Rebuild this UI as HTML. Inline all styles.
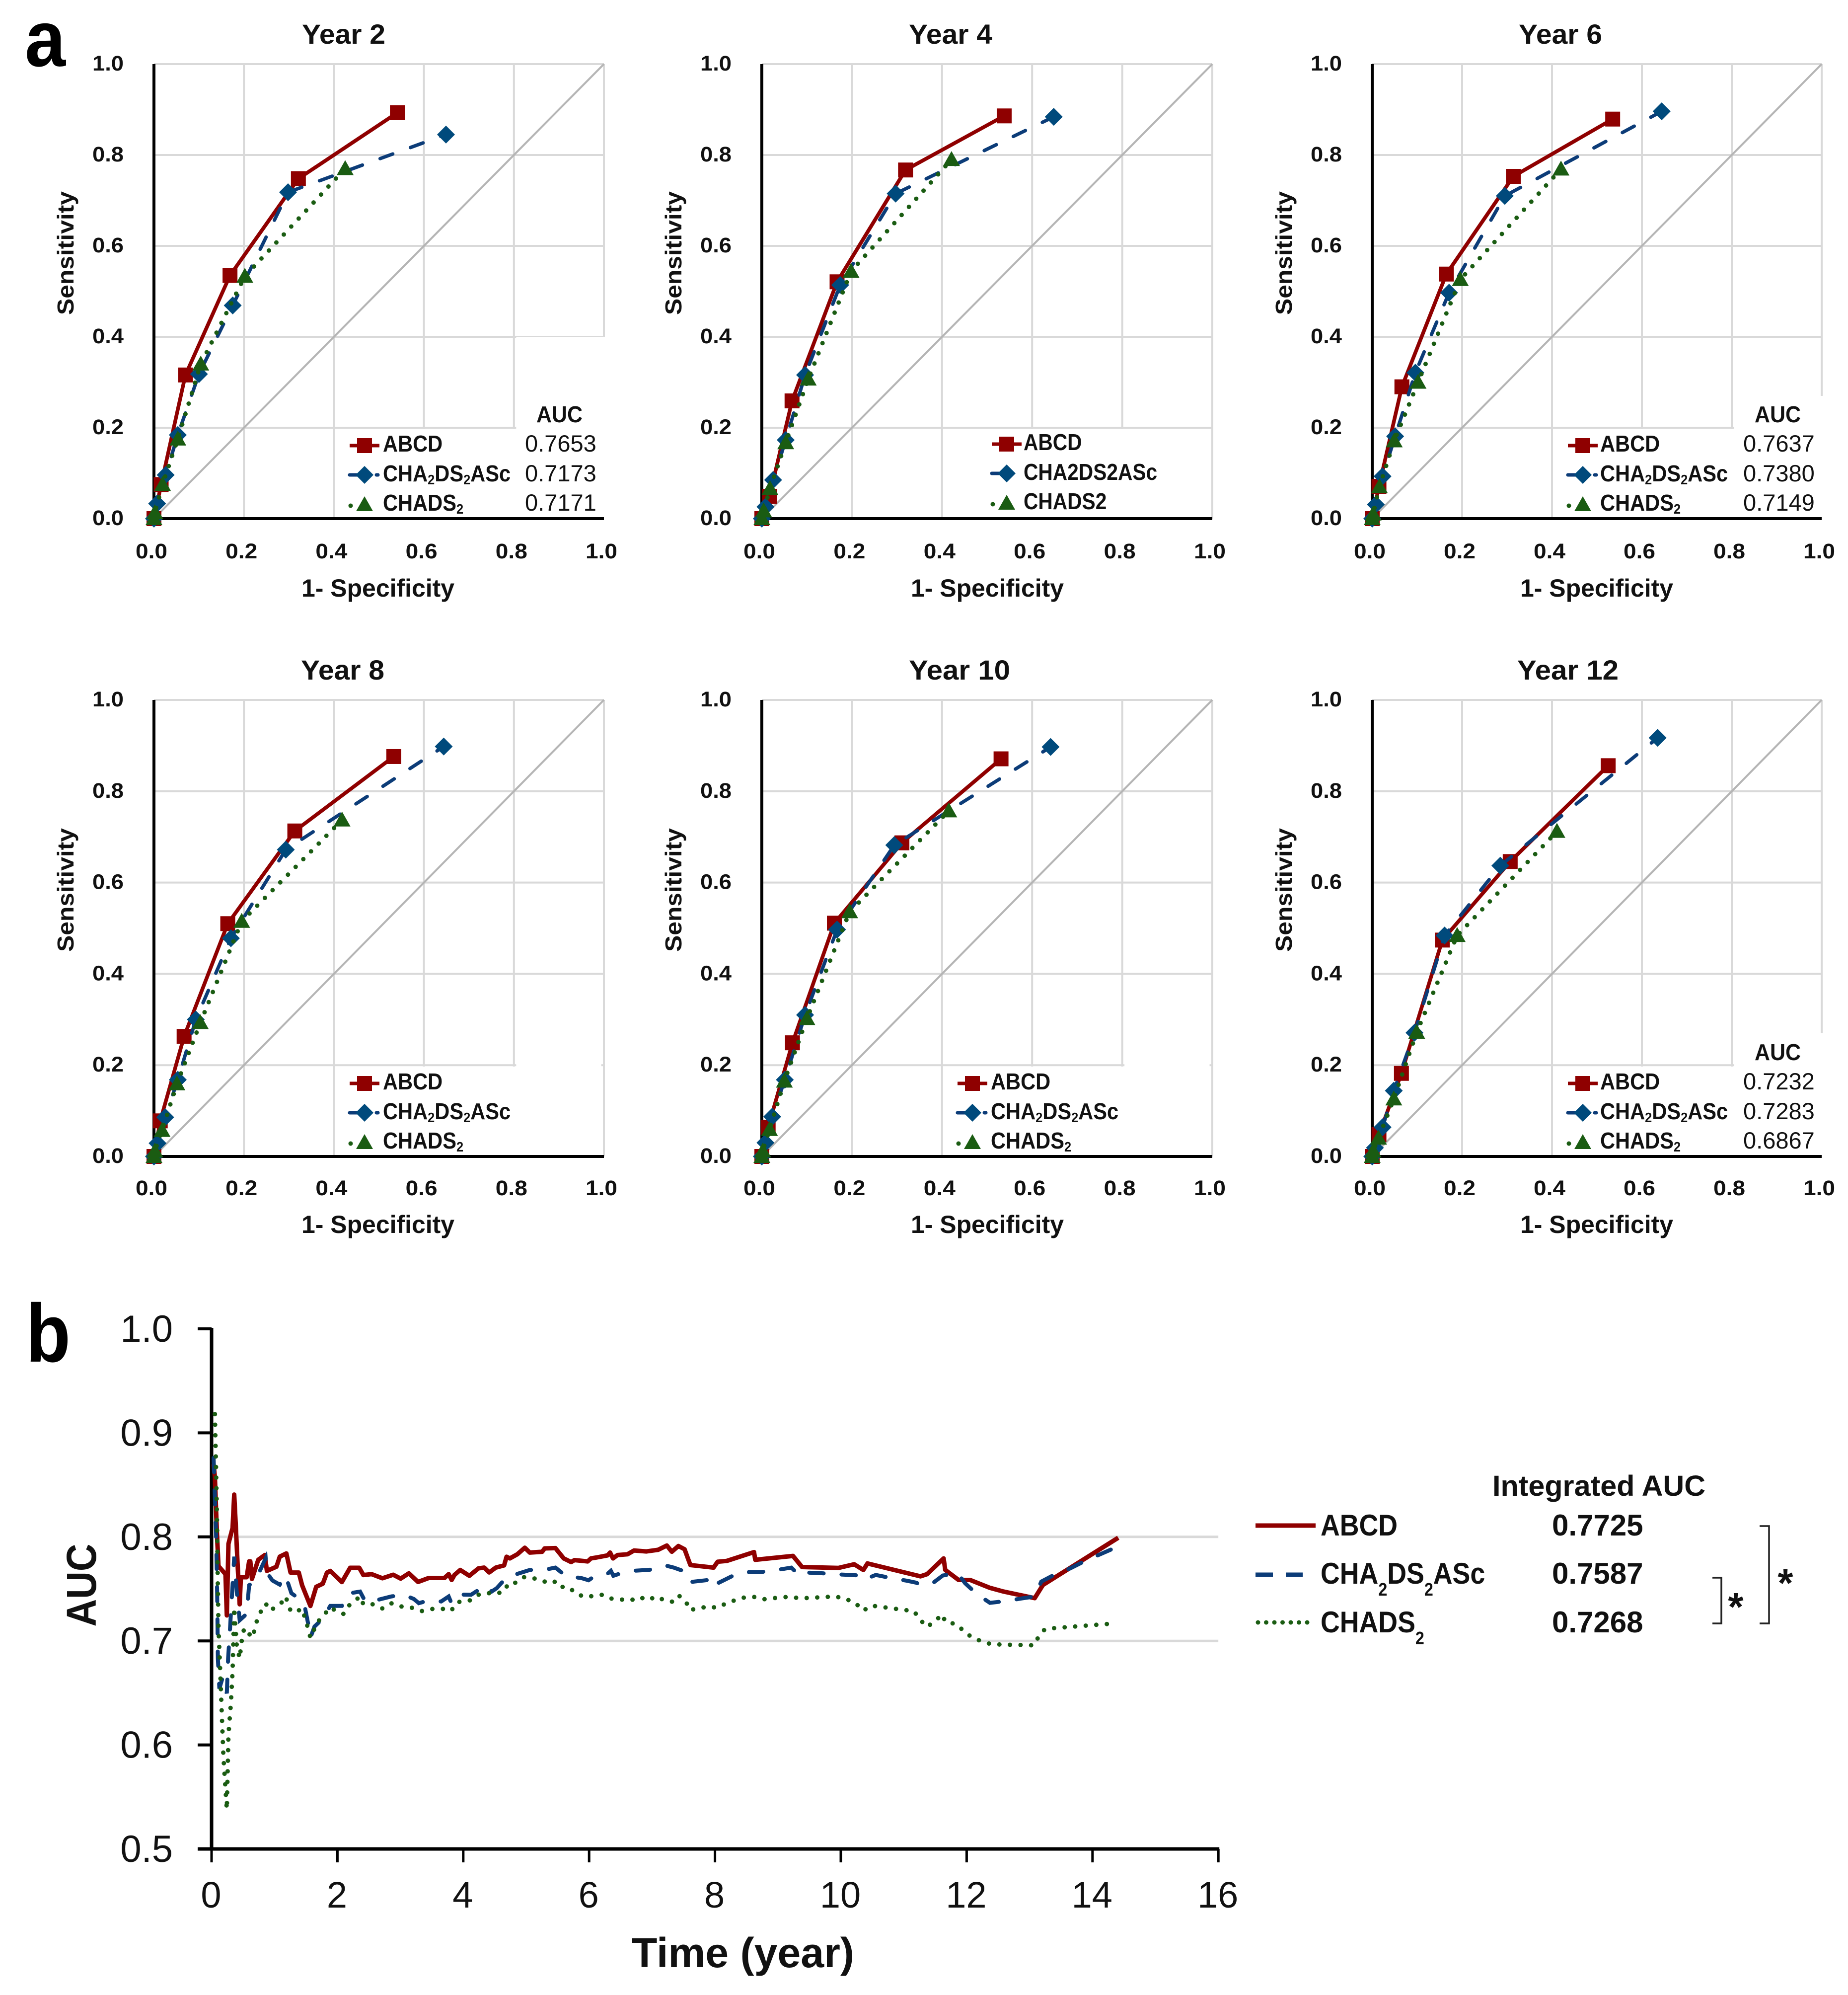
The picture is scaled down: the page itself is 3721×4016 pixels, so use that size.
<!DOCTYPE html>
<html lang="en">
<head>
<meta charset="utf-8">
<title>ROC curves and time-dependent AUC</title>
<style>
html,body{margin:0;padding:0;background:#fff;}
svg{display:block;font-family:"Liberation Sans",sans-serif;fill:#111;}
</style>
</head>
<body>
<svg id="fig" xmlns="http://www.w3.org/2000/svg" width="3721" height="4016" viewBox="0 0 3721 4016">
  <rect x="0" y="0" width="3721" height="4016" fill="#fff"/>
  <text x="50" y="133" font-size="160" font-weight="bold" textLength="82" lengthAdjust="spacingAndGlyphs" fill="#000">a</text>
  <text x="52" y="2741" font-size="166" font-weight="bold" textLength="90" lengthAdjust="spacingAndGlyphs" fill="#000">b</text>

  <g>
    <text x="3005" y="3011" font-size="58" font-weight="bold" textLength="429" lengthAdjust="spacingAndGlyphs">Integrated AUC</text>
    <line x1="2528" y1="3071" x2="2649" y2="3071" stroke="#8f0000" stroke-width="9"/>
    <text transform="translate(2659,3091) scale(0.895,1)" font-size="60" font-weight="bold">ABCD</text>
    <text x="3125" y="3091" font-size="60" font-weight="bold">0.7725</text>
    <line x1="2528" y1="3170" x2="2563" y2="3170" stroke="#0c3c78" stroke-width="9"/>
    <line x1="2589" y1="3170" x2="2623" y2="3170" stroke="#0c3c78" stroke-width="9"/>
    <text transform="translate(2659,3188) scale(0.895,1)" font-size="60" font-weight="bold">CHA<tspan font-size="36" dy="24">2</tspan><tspan dy="-24">DS</tspan><tspan font-size="36" dy="24">2</tspan><tspan dy="-24">ASc</tspan></text>
    <text x="3125" y="3188" font-size="60" font-weight="bold">0.7587</text>
    <line x1="2533" y1="3266" x2="2634" y2="3266" stroke="#1a5c12" stroke-width="9" stroke-linecap="round" stroke-dasharray="0 16.5"/>
    <text transform="translate(2659,3286) scale(0.895,1)" font-size="60" font-weight="bold">CHADS<tspan font-size="36" dy="24">2</tspan></text>
    <text x="3125" y="3286" font-size="60" font-weight="bold">0.7268</text>
    <path d="M3543 3072H3562V3268H3543" fill="none" stroke="#222" stroke-width="3.5"/>
    <path d="M3448 3176H3466V3268H3448" fill="none" stroke="#222" stroke-width="3.5"/>
    <text x="3595" y="3214" font-size="80" font-weight="bold" text-anchor="middle">*</text>
    <text x="3495" y="3262" font-size="80" font-weight="bold" text-anchor="middle">*</text>
  </g>
</svg>
<script>
// ---------- Panel a: ROC data (one entry per year) ----------
const rocYears = [2, 4, 6, 8, 10, 12];
const rocAbcdX = [
  [0, .016, .070, .169, .321, .541],
  [0, .017, .067, .167, .319, .538],
  [0, .015, .066, .165, .314, .535],
  [0, .014, .067, .164, .313, .533],
  [0, .014, .068, .161, .311, .531],
  [0, .015, .065, .156, .307, .525]
];
const rocAbcdY = [
  [0, .075, .316, .535, .748, .893],
  [0, .049, .259, .521, .767, .886],
  [0, .071, .290, .538, .753, .879],
  [0, .078, .263, .510, .713, .876],
  [0, .064, .249, .511, .687, .871],
  [0, .048, .182, .474, .646, .856]
];
const rocChaX = [
  [0, .007, .026, .053, .100, .175, .298, .649],
  [0, .008, .025, .053, .096, .174, .297, .648],
  [0, .008, .023, .051, .096, .171, .295, .644],
  [0, .008, .025, .053, .093, .171, .293, .644],
  [0, .008, .023, .051, .096, .167, .294, .641],
  [0, .006, .023, .048, .094, .161, .285, .635]
];
const rocChaY = [
  [0, .033, .096, .184, .318, .469, .718, .845],
  [0, .026, .085, .173, .316, .514, .715, .884],
  [0, .031, .093, .181, .321, .497, .710, .896],
  [0, .029, .086, .168, .300, .478, .672, .898],
  [0, .030, .087, .168, .310, .497, .682, .897],
  [0, .019, .064, .144, .271, .484, .637, .917]
];
const rocChadsX = [
  [0, .002, .019, .053, .104, .202, .425],
  [0, .004, .018, .053, .103, .198, .421],
  [0, .002, .016, .049, .102, .196, .420],
  [0, .002, .018, .051, .103, .195, .418],
  [0, .002, .017, .050, .100, .195, .415],
  [0, .002, .014, .048, .099, .189, .411]
];
const rocChadsY = [
  [0, .013, .075, .175, .340, .533, .770],
  [0, .017, .066, .167, .307, .544, .790],
  [0, .010, .070, .171, .300, .526, .769],
  [0, .012, .057, .159, .293, .515, .737],
  [0, .012, .059, .165, .302, .536, .757],
  [0, .012, .040, .126, .272, .484, .712]
];
const rocAucAbcd = ["0.7653", null, "0.7637", null, null, "0.7232"];
const rocAucCha = ["0.7173", null, "0.7380", null, null, "0.7283"];
const rocAucChads = ["0.7171", null, "0.7149", null, null, "0.6867"];
const rocTicks = [0, .2, .4, .6, .8, 1];
const rocTickLabels = ["0.0", "0.2", "0.4", "0.6", "0.8", "1.0"];

// ---------- Panel b: AUC over time ----------
const aucXTicks = [0, 2, 4, 6, 8, 10, 12, 14, 16];
const aucYTicks = [.5, .6, .7, .8, .9, 1];
const aucYTickLabels = ["0.5", "0.6", "0.7", "0.8", "0.9", "1.0"];
const aucGridValues = [.7, .8];
const abcdTime = [.032,.053,.084,.110,.221,.242,.268,.334,.360,.387,.413,.447,.466,.558,.597,.616,.642,.742,.847,.879,1.031,1.084,1.189,1.255,1.386,1.439,1.571,1.663,1.768,1.834,1.886,2.071,2.202,2.347,2.413,2.544,2.715,2.886,3.005,3.136,3.281,3.452,3.702,3.768,3.815,3.860,3.952,4.096,4.241,4.333,4.412,4.517,4.649,4.688,4.741,4.859,4.978,5.057,5.254,5.294,5.465,5.596,5.714,5.767,5.977,6.030,6.109,6.293,6.333,6.380,6.451,6.609,6.714,6.911,7.096,7.235,7.314,7.419,7.517,7.609,7.977,8.043,8.187,8.621,8.640,9.240,9.384,9.963,10.213,10.358,10.424,11.266,11.371,11.634,11.660,11.871,12.055,12.370,12.581,13.081,13.212,14.409];
const abcdAuc = [.8697,.8575,.8055,.7719,.7642,.7245,.7933,.8086,.8407,.8086,.7749,.7352,.7612,.7612,.7765,.7765,.7596,.7780,.7826,.7673,.7713,.7810,.7841,.7657,.7657,.7535,.7336,.7520,.7550,.7657,.7673,.7566,.7703,.7703,.7633,.7642,.7602,.7636,.7599,.7650,.7567,.7605,.7605,.7642,.7586,.7634,.7682,.7626,.7697,.7705,.7658,.7705,.7726,.7809,.7793,.7833,.7896,.7849,.7857,.7889,.7892,.7793,.7758,.7777,.7764,.7793,.7801,.7822,.7849,.7793,.7825,.7833,.7869,.7860,.7876,.7917,.7857,.7912,.7881,.7729,.7705,.7761,.7769,.7854,.7780,.7817,.7710,.7702,.7737,.7682,.7745,.7621,.7642,.7793,.7682,.7586,.7586,.7510,.7475,.7411,.7538,.7992];
const chaTime = [.032,.071,.089,.100,.124,.176,.242,.263,.295,.360,.400,.447,.558,.597,.689,.755,.860,.879,.966,1.084,1.176,1.268,1.373,1.479,1.544,1.571,1.636,1.768,1.886,2.071,2.202,2.360,2.426,2.544,2.662,2.860,3.057,3.215,3.294,3.412,3.649,3.768,3.807,3.899,4.123,4.346,4.452,4.530,4.675,4.846,5.057,5.280,5.465,5.636,5.872,5.991,6.083,6.293,6.346,6.385,6.464,6.701,6.925,7.135,7.240,7.345,7.490,7.582,7.622,7.898,7.990,8.043,8.266,8.490,8.714,8.950,9.214,9.332,9.384,9.647,9.884,10.134,10.239,10.358,10.555,10.792,11.055,11.200,11.279,11.476,11.621,11.857,11.976,12.160,12.370,12.607,12.870,13.081,13.186,13.396,13.646,13.857,14.094,14.304,14.409];
const chaAuc = [.876,.8055,.7443,.6832,.6541,.6648,.6495,.6832,.7138,.781,.7474,.7199,.726,.7535,.758,.7657,.7795,.7657,.7581,.7541,.7627,.7459,.7413,.7336,.7138,.7031,.7138,.7214,.7336,.7336,.7459,.7474,.7398,.7428,.7398,.7428,.7443,.7403,.7363,.7382,.7379,.7427,.7371,.7446,.7443,.7530,.7475,.7506,.7602,.7642,.7682,.7682,.7705,.7621,.7605,.7583,.7621,.7646,.7674,.7626,.7642,.7674,.7682,.7694,.7721,.7705,.7674,.7570,.7567,.7586,.7514,.7554,.7621,.7662,.7661,.7678,.7705,.7634,.7658,.7653,.7642,.7634,.7631,.7586,.7634,.7605,.7578,.7559,.7535,.7562,.7629,.7650,.7554,.7451,.7366,.7382,.7408,.7427,.7570,.7637,.7697,.7761,.7825,.7881,.7904];
const chadsTime = [.053,.071,.089,.097,.110,.137,.163,.189,.242,.268,.308,.334,.360,.400,.447,.479,.518,.650,.729,.795,.860,.939,1.044,1.110,1.176,1.255,1.347,1.426,1.492,1.571,1.650,1.715,1.821,1.886,2.018,2.097,2.176,2.281,2.360,2.413,2.570,2.715,2.860,2.991,3.110,3.202,3.341,3.504,3.675,3.781,3.833,3.939,4.096,4.236,4.373,4.510,4.654,4.715,4.820,4.957,5.088,5.254,5.354,5.496,5.609,5.759,5.893,6.038,6.209,6.288,6.380,6.504,6.669,6.801,6.925,7.075,7.169,7.314,7.419,7.535,7.601,7.745,7.911,8.030,8.177,8.335,8.495,8.635,8.771,8.937,9.103,9.266,9.411,9.576,9.745,9.916,10.082,10.234,10.355,10.487,10.655,10.826,10.992,11.160,11.252,11.363,11.492,11.607,11.666,11.823,11.949,12.076,12.231,12.392,12.555,12.731,12.899,13.068,13.147,13.244,13.412,13.581,13.752,13.920,14.088,14.259];
const chadsAuc = [.918,.8667,.8055,.7627,.7138,.6709,.6281,.5884,.5379,.6098,.6404,.6709,.7321,.6954,.6832,.7,.7122,.7031,.7214,.7297,.7358,.7291,.7343,.7367,.7428,.7291,.7275,.7312,.7214,.7031,.7138,.7205,.7275,.7321,.7275,.7260,.7336,.7388,.7428,.7352,.7352,.7312,.7361,.7331,.7331,.7315,.7287,.7307,.7307,.7328,.7303,.7376,.7387,.7443,.7462,.7451,.7478,.7554,.7557,.7613,.7607,.7581,.7554,.7575,.7498,.7486,.7427,.7430,.7443,.7419,.7403,.7398,.7392,.7422,.7392,.7427,.7398,.7376,.7439,.7382,.7296,.7315,.7331,.7318,.7360,.7395,.7422,.7422,.7400,.7411,.7422,.7416,.7411,.7416,.7422,.7427,.7403,.7363,.7291,.7339,.7326,.7312,.7299,.7287,.7212,.7135,.7183,.7256,.7180,.7164,.7100,.7037,.6997,.6968,.6965,.6962,.6961,.6957,.7045,.7113,.7124,.7132,.7140,.7148,.7156,.7164];

// ---------- Drawing ----------
const NS = 'http://www.w3.org/2000/svg';
const fig = document.getElementById('fig');
const RED = '#8f0000', BLUE = '#0c3c78', GREEN = '#1a5c12', DIAMOND = '#004a7c', GRID = '#d9d9d9';

function mk(parent, tag, attrs, content) {
  const el = document.createElementNS(NS, tag);
  for (const k in attrs) el.setAttribute(k, attrs[k]);
  if (content !== undefined) el.textContent = content;
  parent.appendChild(el);
  return el;
}
function polyPoints(xs, ys, fx, fy) {
  return xs.map((v, i) => fx(v).toFixed(1) + ',' + fy(ys[i]).toFixed(1)).join(' ');
}
function square(parent, cx, cy, name) {
  const el = mk(parent, 'rect', {x: cx - 15, y: cy - 15, width: 30, height: 30, fill: RED});
  
  
}
function diamond(parent, cx, cy, name) {
  const el = mk(parent, 'polygon', {points: `${cx},${cy - 18} ${cx + 18},${cy} ${cx},${cy + 18} ${cx - 18},${cy}`, fill: DIAMOND});
  
  
}
function triangle(parent, cx, cy, name) {
  const el = mk(parent, 'polygon', {points: `${cx},${cy - 17} ${cx + 17},${cy + 13} ${cx - 17},${cy + 13}`, fill: GREEN});
  
  
}

const colLeft = [310, 1534, 2763], colRight = [1216, 2441, 3668];
const rowTop = [129, 1409], rowBottom = [1044, 2328];
const titleCx = [692, 1914, 3142, 690, 1932, 3157];
const xTitleCx = [761, 1988, 3215];
const legendBoxTop = [.4, 0, .27, .21, .21, .27];
const legendStartX = [424, 493, 424, 424, 424, 424];
const legendTextX = [461, 527, 459, 461, 461, 459];

rocYears.forEach((year, p) => {
  const c = p % 3, r = Math.floor(p / 3);
  const L = colLeft[c], R = colRight[c], T = rowTop[r], B = rowBottom[r];
  const sx = v => L + v * (R - L);
  const sy = v => B - v * (B - T);
  const hasAuc = rocAucAbcd[p] !== null;
  const g = mk(fig, 'g', {});
  
  

  rocTicks.slice(1).forEach(v => {
    const h = mk(g, 'line', {x1: L, x2: R, y1: sy(v), y2: sy(v), stroke: GRID, 'stroke-width': 4});
    
    
    const ve = mk(g, 'line', {x1: sx(v), x2: sx(v), y1: T, y2: B, stroke: GRID, 'stroke-width': 4});
    
    
  });

  // White legend backing hides gridlines behind the legend
  const boxRight = hasAuc ? R + 6 : sx(.994);
  const back = mk(g, 'rect', {x: sx(.412), y: sy(.197), width: boxRight - sx(.412), height: B - sy(.197), fill: '#fff'});
  
  
  if (legendBoxTop[p] > 0) {
    const back2 = mk(g, 'rect', {x: sx(.805), y: sy(legendBoxTop[p]), width: boxRight - sx(.805), height: B - sy(legendBoxTop[p]), fill: '#fff'});
    
    
  }

  const diag = mk(g, 'line', {x1: sx(0), y1: sy(0), x2: sx(1), y2: sy(1), stroke: '#b5b5b5', 'stroke-width': 4});
  
  
  const yAxis = mk(g, 'line', {x1: L, x2: L, y1: T, y2: B + 3, stroke: '#000', 'stroke-width': 6});
  
  
  const xAxis = mk(g, 'line', {x1: L, x2: R, y1: B, y2: B, stroke: '#000', 'stroke-width': 6});
  
  

  rocTicks.forEach((v, i) => {
    const yl = mk(g, 'text', {x: L - 61, y: sy(v) + 13, 'font-size': 43, 'font-weight': 'bold', 'text-anchor': 'end', textLength: 63, lengthAdjust: 'spacingAndGlyphs'}, rocTickLabels[i]);
    
    
    const xl = mk(g, 'text', {x: sx(v) - 5, y: B + (r === 0 ? 80 : 78), 'font-size': 43, 'font-weight': 'bold', 'text-anchor': 'middle', textLength: 64, lengthAdjust: 'spacingAndGlyphs'}, rocTickLabels[i]);
    
    
  });

  const title = mk(g, 'text', {x: titleCx[p], y: T - 41, 'font-size': 56, 'font-weight': 'bold', 'text-anchor': 'middle', textLength: year >= 10 ? 204 : 168, lengthAdjust: 'spacingAndGlyphs'}, 'Year ' + year);
  
  
  const xTitle = mk(g, 'text', {x: xTitleCx[c], y: B + (r === 0 ? 157 : 154), 'font-size': 50, 'font-weight': 'bold', 'text-anchor': 'middle', textLength: 308, lengthAdjust: 'spacingAndGlyphs'}, '1- Specificity');
  
  
  const yTitle = mk(g, 'text', {transform: `translate(${L - 162},${(T + B) / 2 - 77}) rotate(-90)`, 'font-size': 46, 'font-weight': 'bold', 'text-anchor': 'middle', textLength: 249, lengthAdjust: 'spacingAndGlyphs'}, 'Sensitivity');
  
  

  // Legend
  const lift = p === 1 ? 3 : 0;
  const mx = L + legendStartX[p], tx = L + legendTextX[p];
  const legY = [B - 147 - lift, B - 88 - lift, B - 28 - lift];
  const baseY = [B - 135 - lift, B - 75 - lift, B - 16 - lift];
  const k = p !== 1 ? .905 : .885;
  const l1 = mk(g, 'line', {x1: mx - 30, x2: mx + 30, y1: legY[0], y2: legY[0], stroke: RED, 'stroke-width': 7});
  
  
  square(g, mx, legY[0], 'legend-marker-abcd');
  const l2 = mk(g, 'line', {x1: mx - 30, x2: mx - 8, y1: legY[1], y2: legY[1], stroke: BLUE, 'stroke-width': 7, 'stroke-linecap': 'round'});
  
  
  diamond(g, mx, legY[1], 'legend-marker-cha2ds2asc');
  if (p !== 1) {
    const l2b = mk(g, 'line', {x1: mx + 24, x2: mx + 27, y1: legY[1], y2: legY[1], stroke: BLUE, 'stroke-width': 7, 'stroke-linecap': 'round'});
    
    
  }
  const l3 = mk(g, 'line', {x1: mx - 28, x2: mx + 28, y1: legY[2] + 2, y2: legY[2] + 2, stroke: GREEN, 'stroke-width': 9, 'stroke-linecap': 'round', 'stroke-dasharray': '0 56'});
  
  
  triangle(g, mx, legY[2], 'legend-marker-chads2');

  const labels = p === 1
    ? ['ABCD', 'CHA2DS2ASc', 'CHADS2']
    : ['ABCD', 'CHA<tspan font-size="28" dy="6">2</tspan><tspan dy="-6">DS</tspan><tspan font-size="28" dy="6">2</tspan><tspan dy="-6">ASc</tspan>', 'CHADS<tspan font-size="28" dy="6">2</tspan>'];
  labels.forEach((lab, i) => {
    const t = mk(g, 'text', {transform: `translate(${tx},${baseY[i]}) scale(${k},1)`, 'font-size': 46, 'font-weight': 'bold'});
    t.innerHTML = lab;
    
    
  });
  if (hasAuc) {
    const head = mk(g, 'text', {x: L + 770, y: B - 194, 'font-size': 46, 'font-weight': 'bold', textLength: 93, lengthAdjust: 'spacingAndGlyphs'}, 'AUC');
    
    
    [rocAucAbcd[p], rocAucCha[p], rocAucChads[p]].forEach((val, i) => {
      const t = mk(g, 'text', {x: L + 747, y: baseY[i], 'font-size': 47}, val);
      
      
    });
  }

  // Series
  const redLine = mk(g, 'polyline', {points: polyPoints(rocAbcdX[p], rocAbcdY[p], sx, sy), fill: 'none', stroke: RED, 'stroke-width': 7.5, 'stroke-linejoin': 'round'});
  
  
  rocAbcdX[p].forEach((v, i) => square(g, sx(v), sy(rocAbcdY[p][i]), 'point-abcd'));

  const blueLine = mk(g, 'polyline', {points: polyPoints(rocChaX[p], rocChaY[p], sx, sy), fill: 'none', stroke: BLUE, 'stroke-width': 7, 'stroke-linecap': 'round', 'stroke-dasharray': '27 38'});
  
  
  rocChaX[p].forEach((v, i) => diamond(g, sx(v), sy(rocChaY[p][i]), 'point-cha2ds2asc'));

  const greenLine = mk(g, 'polyline', {points: polyPoints(rocChadsX[p], rocChadsY[p], sx, sy), fill: 'none', stroke: GREEN, 'stroke-width': 9, 'stroke-linecap': 'round', 'stroke-dasharray': '0 22'});
  
  
  rocChadsX[p].forEach((v, i) => triangle(g, sx(v), sy(rocChadsY[p][i]), 'point-chads2'));
});

// Panel b
(function () {
  const X = t => 426 + 126.7 * t;
  const Y = a => 3722 - (a - .5) * 2094;
  const g = mk(fig, 'g', {});
  
  

  aucGridValues.forEach(v => {
    const h = mk(g, 'line', {x1: X(0), x2: X(16), y1: Y(v), y2: Y(v), stroke: GRID, 'stroke-width': 5});
    
    
  });

  const yAxis = mk(g, 'line', {x1: X(0), x2: X(0), y1: Y(1) - 2, y2: Y(.5) + 2, stroke: '#000', 'stroke-width': 7});
  
  
  const xAxis = mk(g, 'line', {x1: X(0) - 28, x2: X(16) + 2, y1: Y(.5), y2: Y(.5), stroke: '#000', 'stroke-width': 7});
  
  

  aucYTicks.forEach((v, i) => {
    const tick = mk(g, 'line', {x1: X(0) - 28, x2: X(0), y1: Y(v), y2: Y(v), stroke: '#000', 'stroke-width': 6});
    
    
    const label = mk(g, 'text', {x: 348, y: Y(v) + 26, 'font-size': 76, 'text-anchor': 'end'}, aucYTickLabels[i]);
    
    
  });
  aucXTicks.forEach(v => {
    const tick = mk(g, 'line', {x1: X(v), x2: X(v), y1: Y(.5), y2: Y(.5) + 27, stroke: '#000', 'stroke-width': 5});
    
    
    const label = mk(g, 'text', {x: X(v) - 1, y: 3840, 'font-size': 74, 'text-anchor': 'middle'}, String(v));
    
    
  });

  const xTitle = mk(g, 'text', {x: 1496, y: 3960, 'font-size': 84, 'font-weight': 'bold', 'text-anchor': 'middle', textLength: 448, lengthAdjust: 'spacingAndGlyphs'}, 'Time (year)');
  
  
  const yTitle = mk(g, 'text', {transform: 'translate(193,3191) rotate(-90)', 'font-size': 84, 'font-weight': 'bold', 'text-anchor': 'middle', textLength: 167, lengthAdjust: 'spacingAndGlyphs'}, 'AUC');
  
  

  const red = mk(g, 'polyline', {points: polyPoints(abcdTime, abcdAuc, X, Y), fill: 'none', stroke: RED, 'stroke-width': 9, 'stroke-linejoin': 'round'});
  
  
  const blue = mk(g, 'polyline', {points: polyPoints(chaTime, chaAuc, X, Y), fill: 'none', stroke: BLUE, 'stroke-width': 8, 'stroke-linecap': 'round', 'stroke-dasharray': '29 36'});
  
  
  const green = mk(g, 'polyline', {points: polyPoints(chadsTime, chadsAuc, X, Y), fill: 'none', stroke: GREEN, 'stroke-width': 9, 'stroke-linecap': 'round', 'stroke-dasharray': '0 21.3'});
  
  
})();
</script>
</body>
</html>
